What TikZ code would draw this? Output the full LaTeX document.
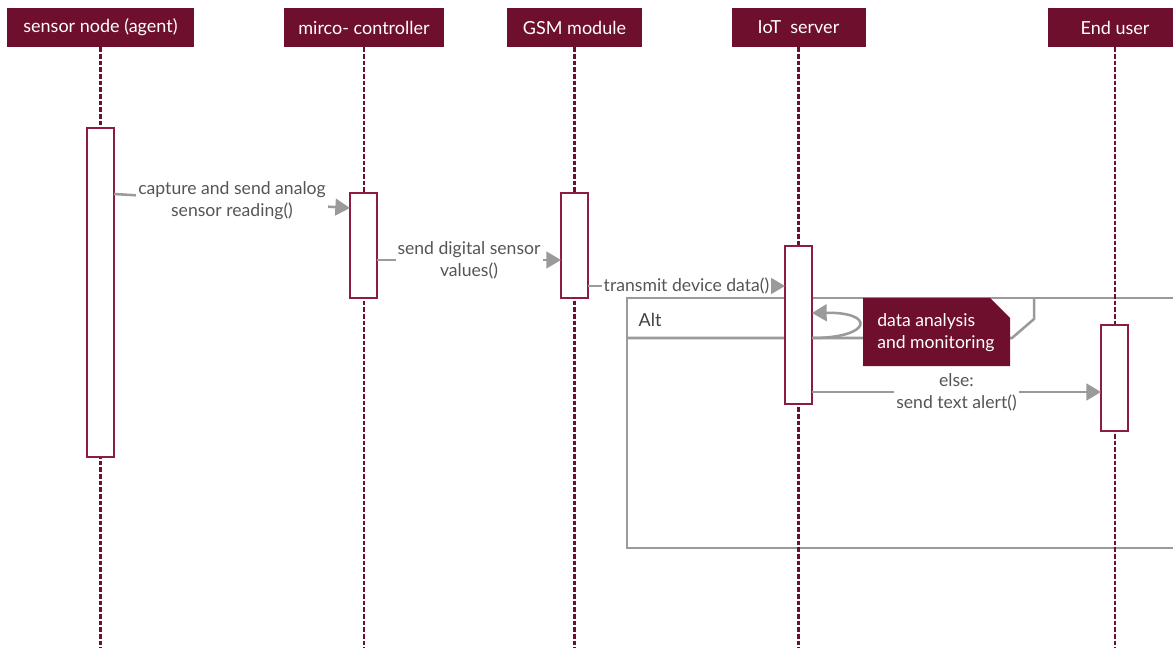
\documentclass[tikz,border=0pt]{standalone}
\usepackage{fontspec}
\setmainfont{Lato}
\usetikzlibrary{arrows.meta}
\definecolor{wine}{HTML}{6E0F2D}
\definecolor{winebar}{HTML}{8C1C40}
\definecolor{msggray}{HTML}{9A9A9A}
\definecolor{txtgray}{HTML}{555555}
\tikzset{
  head/.style={fill=wine, text=white, minimum height=29.25pt, inner sep=0pt, font=\fontsize{13.5}{15}\selectfont},
  life/.style={wine, line width=1.7pt, dash pattern=on 3.5pt off 1.5pt},
  act/.style={draw=winebar, fill=white, line width=1.9pt},
  msg/.style={msggray, line width=1.9pt, -{Triangle[length=11pt,width=12.5pt]}},
  lbl/.style={fill=white, text=txtgray, align=center, inner sep=1.5pt, font=\fontsize{13.2}{16.5}\selectfont},
  frame/.style={draw=msggray, line width=1.9pt}
}
\begin{document}
\begin{tikzpicture}[x=0.75pt,y=-0.75pt]
  \useasboundingbox (0,0) rectangle (1173,648);
  \clip (0,0) rectangle (1173,648);
  % alt frame
  \draw[frame] (627,298) rectangle (1190,548);
  \draw[frame] (627,338) -- (1012,338) -- (1034,319) -- (1034,298);
  \node[anchor=west, text=black!75, font=\fontsize{13.5}{15}\selectfont] (alt) at (634,320) {Alt};
  % heads
  \node[head, minimum width=140.25pt] (h1) at (100.5,27.5) {sensor node (agent)};
  \node[head, minimum width=120pt] (h2) at (364,27.5) {mirco- controller};
  \node[head, minimum width=101.25pt] (h3) at (574.5,27.5) {GSM module};
  \node[head, minimum width=100.5pt] (h4) at (798.5,27.5) {IoT\ \ server};
  \node[head, minimum width=100.5pt] (h5) at (1115,27.5) {End user};
  % lifelines
  \coordinate (e1) at (100.5,648);
  \coordinate (e2) at (364,648);
  \coordinate (e3) at (574.5,648);
  \coordinate (e4) at (798.5,648);
  \coordinate (e5) at (1115,648);
  \draw[life] (h1.south) -- (e1);
  \draw[life] (h2.south) -- (e2);
  \draw[life] (h3.south) -- (e3);
  \draw[life] (h4.south) -- (e4);
  \draw[life] (h5.south) -- (e5);
  % activations
  \draw[act] (87,128) rectangle (114,457);
  \draw[act] (350,193) rectangle (377,298);
  \draw[act] (561,193) rectangle (588,298);
  \draw[act] (785,246) rectangle (812,404);
  \draw[act] (1101,325) rectangle (1128,431);
  % messages
  \coordinate (m1a) at (114,194);
  \coordinate (m1b) at (350,208);
  \coordinate (m2a) at (377,260);
  \coordinate (m2b) at (561,260);
  \coordinate (m3a) at (588,286);
  \coordinate (m3b) at (785,286);
  \coordinate (m4a) at (812,338);
  \coordinate (m4b) at (812,313);
  \coordinate (m5a) at (812,392);
  \coordinate (m5b) at (1101,392);
  \draw[msg] (m1a) -- node[lbl] {capture and send analog\\sensor reading()} (m1b);
  \draw[msg] (m2a) -- node[lbl] {send digital sensor\\values()} (m2b);
  \draw[msg] (m3a) -- node[lbl] {transmit device data()} (m3b);
  \draw[msg] (m4a) .. controls (872,338) and (876,312) .. (m4b);
  \draw[msg] (m5a) -- node[lbl] {else:\\send text alert()} (m5b);
  % note
  \fill[wine] (863,298) -- (990,298) -- (1010,318) -- (1010,366) -- (863,366) -- cycle;
  \node[anchor=west, text=white, align=left, inner sep=0pt, font=\fontsize{13.2}{16.5}\selectfont] (note) at (877,333) {data analysis\\and monitoring};
\end{tikzpicture}
\end{document}
